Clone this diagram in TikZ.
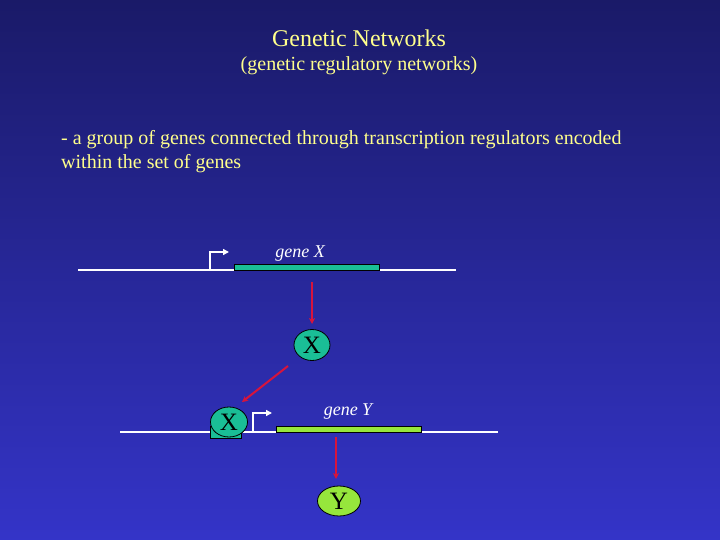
\documentclass[tikz,border=0pt]{standalone}
\usepackage{fontspec}
\setmainfont{Liberation Serif}
\usetikzlibrary{arrows.meta,shapes.geometric}
\definecolor{bgtop}{RGB}{26,26,104}
\definecolor{bgbot}{RGB}{52,52,200}
\definecolor{txtyel}{RGB}{255,255,140}
\definecolor{teal}{RGB}{26,190,150}
\definecolor{lgreen}{RGB}{150,230,60}
\definecolor{arrred}{RGB}{215,20,60}
\tikzset{
  dnaline/.style={draw=white, line width=1.2pt},
  promoter/.style={draw=white, line width=1.4pt, -{Triangle[length=6pt,width=6pt]}},
  genebox/.style={draw=black, line width=0.8pt},
  protein/.style={ellipse, draw=black, line width=0.8pt, minimum width=36pt, minimum height=31pt, inner sep=0pt, font=\fontsize{25}{25}\selectfont},
  regarrow/.style={draw=arrred, line width=2pt, -{Stealth[length=6pt,width=6pt]}},
  genelabel/.style={text=white, font=\fontsize{18}{18}\selectfont\itshape, inner sep=0pt},
  slidetext/.style={text=txtyel, inner sep=0pt}
}
\begin{document}
\begin{tikzpicture}[x=1pt,y=-1pt]
\useasboundingbox (0,0) rectangle (720,540);
\shade[top color=bgtop, bottom color=bgbot] (0,0) rectangle (720,540);

% titles
\node[slidetext, font=\fontsize{24}{24}\selectfont] (title) at (359,38) {Genetic Networks};
\node[slidetext, font=\fontsize{20}{20}\selectfont] (subtitle) at (359,66) {(genetic regulatory networks)};
\node[slidetext, font=\fontsize{20}{24}\selectfont, anchor=west, align=left] (desc) at (61,152)
  {- a group of genes connected through transcription regulators encoded\\within the set of genes};

% gene X
\coordinate (lxa) at (78,270);
\coordinate (lxb) at (456,270);
\draw[dnaline] (lxa) -- (lxb);
\coordinate (px0) at (210,270);
\coordinate (px1) at (210,252);
\coordinate (px2) at (229,252);
\draw[promoter] (px0) -- (px1) -- (px2);
\draw[genebox, fill=teal] (234,264) rectangle (379,270);
\node[genelabel] (gx) at (300,254) {gene X};

% protein X
\coordinate (ax0) at (312,282);
\coordinate (ax1) at (312,324);
\node[protein, fill=teal] (X1) at (312,345) {X};
\draw[regarrow] (ax0) -- (ax1);

% bound X on gene Y
\coordinate (ly1a) at (120,432);
\coordinate (ly1b) at (498,432);
\draw[dnaline] (ly1a) -- (ly1b);
\draw[genebox, fill=teal] (210,426) rectangle (241,438);
\node[protein, fill=teal, minimum width=37pt, minimum height=30pt] (X2) at (229,422) {X};
\coordinate (bx0) at (288,366);
\coordinate (bx1) at (242,402);
\draw[regarrow] (bx0) -- (bx1);

% gene Y
\coordinate (py0) at (253,432);
\coordinate (py1) at (253,413);
\coordinate (py2) at (272,413);
\draw[promoter] (py0) -- (py1) -- (py2);
\draw[genebox, fill=lgreen] (276,426) rectangle (421,432);
\node[genelabel] (gy) at (348,412) {gene Y};

% protein Y
\coordinate (ay0) at (336,437);
\coordinate (ay1) at (336,479);
\node[protein, fill=lgreen, minimum width=43pt, minimum height=30pt] (Y1) at (339,501) {Y};
\draw[regarrow] (ay0) -- (ay1);
\end{tikzpicture}
\end{document}
